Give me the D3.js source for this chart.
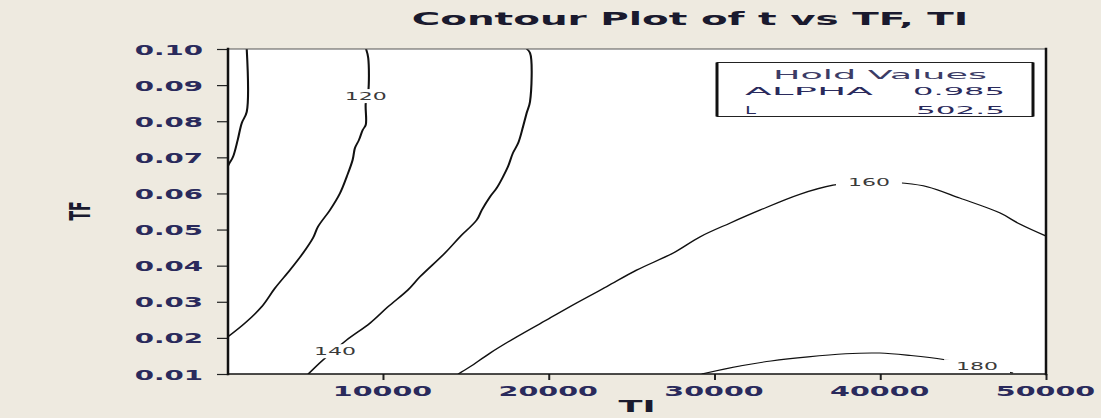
<!DOCTYPE html>
<html>
<head>
<meta charset="utf-8">
<script src="https://cdn.jsdelivr.net/npm/d3@7"></script>
<style>
  body { margin: 0; background: #EEEAE0; }
  svg { display: block; }
</style>
</head>
<body>
<svg id="chart" width="1101" height="418"></svg>
<script>
// Axis ticks
const tiTicks = [10000, 20000, 30000, 40000, 50000];
const tfTicks = [0.01, 0.02, 0.03, 0.04, 0.05, 0.06, 0.07, 0.08, 0.09, 0.10];

// Contour lines of t, as [TI, TF] points
const contour100 = [[1780, 0.100], [1780, 0.0826], [1480, 0.0795], [1235, 0.0748], [950, 0.0701], [740, 0.0684], [650, 0.0676]];
const contour120 = [[8980, 0.100], [9110, 0.0975], [9110, 0.0880], [8960, 0.0850], [8960, 0.0790], [8780, 0.0776], [8550, 0.0748],
  [8310, 0.0726], [8170, 0.0693], [7810, 0.0646], [7410, 0.0601], [6800, 0.0554], [6080, 0.0508], [5780, 0.0477],
  [5180, 0.0435], [4390, 0.0388], [3490, 0.0338], [2680, 0.0286], [1680, 0.0241], [650, 0.0203]];
const contour140 = [[18670, 0.100], [18870, 0.0989], [18870, 0.0854], [18670, 0.0823], [18450, 0.0785], [18160, 0.0740],
  [17840, 0.0712], [17540, 0.0674], [17240, 0.0646], [16860, 0.0615], [16460, 0.0591], [15960, 0.0554], [15650, 0.0526],
  [14650, 0.0480], [13740, 0.0435], [12230, 0.0369], [11510, 0.0333], [10300, 0.0286], [9220, 0.0241], [7810, 0.0194],
  [6380, 0.0139], [5490, 0.0100]];
const contour160 = [[14540, 0.0100], [15250, 0.0120], [16460, 0.0158], [18070, 0.0203], [19880, 0.0250], [21690, 0.0297],
  [23500, 0.0342], [25310, 0.0388], [27500, 0.0435], [29130, 0.0480], [30940, 0.0518], [32750, 0.0554], [35160, 0.0598],
  [37150, 0.0623], [39320, 0.0633], [41490, 0.0628], [42880, 0.0618], [44810, 0.0587], [47220, 0.0546], [48430, 0.0515],
  [50000, 0.0482]];
const contour180 = [[29230, 0.0100], [31540, 0.0122], [33410, 0.0136], [37920, 0.0156], [39970, 0.0158], [41850, 0.0151],
  [43820, 0.0140], [45840, 0.0122], [48010, 0.0103]];
const contours = [contour100, contour120, contour140, contour160, contour180];

// Contour level labels and where they sit
const levelLabels = ["120", "140", "160", "180"];
const labelTI = [8960, 7100, 39320, 45840];
const labelTF = [0.0871, 0.01645, 0.0633, 0.0123];

// Hold values box
const holdNames = ["ALPHA", "L"];
const holdValues = ["0.985", "502.5"];

const svg = d3.select("#chart");
const font = "'DejaVu Sans', Verdana, sans-serif";
const K = 1.9; // horizontal stretch of the whole rendering

const plotL = 228, plotR = 1046, plotT = 49, plotB = 374;
const x = d3.scaleLinear().domain([650, 50000]).range([plotL, plotR]);
const y = d3.scaleLinear().domain([0.01, 0.10]).range([plotB, plotT]);

// Text drawn with a horizontal stretch; width (px) or factor sets the stretch
function stretchText(sel, px, py, opts) {
  const natural = sel.node().getComputedTextLength();
  const f = opts.width ? opts.width / natural : opts.factor;
  sel.attr("x", 0).attr("y", 0)
     .attr("transform", `translate(${px},${py}) scale(${f},1)` + (opts.rotate ? ` rotate(${opts.rotate})` : ""));
  return sel;
}
function addText(parent, str, px, py, opts) {
  const t = parent.append("text")
    .text(str)
    .attr("font-family", font)
    .attr("font-size", opts.size)
    .attr("font-weight", opts.weight || "normal")
    .attr("fill", opts.fill || "#222")
    .attr("text-anchor", opts.anchor || "start");
  return stretchText(t, px, py, opts);
}

// Plot area
svg.append("rect").attr("x", plotL).attr("y", plotT)
  .attr("width", plotR - plotL).attr("height", plotB - plotT).attr("fill", "#fff");

// Contour lines, drawn in a compressed space then stretched so steep strokes read thicker
svg.append("defs").append("clipPath").attr("id", "plotClip")
  .append("rect").attr("x", plotL).attr("y", plotT).attr("width", plotR - plotL).attr("height", plotB - plotT);
const lineLayer = svg.append("g").attr("clip-path", "url(#plotClip)")
  .append("g").attr("transform", `scale(${K},1)`);
const line = d3.line().x(d => x(d[0]) / K).y(d => y(d[1])).curve(d3.curveCatmullRom.alpha(0.5));
lineLayer.selectAll("path.contour").data(contours).join("path")
  .attr("class", "contour")
  .attr("d", line)
  .attr("fill", "none")
  .attr("stroke", "#111")
  .attr("stroke-width", 1.1);

// Level labels with a white gap cut into the line
const labelLayer = svg.append("g");
levelLabels.forEach((lab, i) => {
  const cx = x(labelTI[i]), cy = y(labelTF[i]);
  const g = labelLayer.append("g");
  const bg = g.append("rect").attr("fill", "#fff");
  const t = addText(g, lab, cx, cy + 4, { size: 11, factor: 2.0, anchor: "middle", fill: "#3a3a3a" });
  const w = t.node().getComputedTextLength() * 2.0;
  bg.attr("x", cx - w / 2 - 12).attr("y", cy - 6.5).attr("width", w + 24).attr("height", 14);
});

// Axes
const yAxis = svg.append("g").attr("transform", `translate(${plotL},0)`)
  .call(d3.axisLeft(y).tickValues(tfTicks).tickFormat(d3.format(".2f")).tickSize(11));
yAxis.select(".domain").remove();
yAxis.selectAll(".tick line").attr("stroke", "#222").attr("stroke-width", 1.2);
yAxis.selectAll(".tick text").each(function () {
  const t = d3.select(this)
    .attr("font-family", font).attr("font-size", 14).attr("font-weight", "bold")
    .attr("fill", "#2a2a5c").attr("text-anchor", "end").attr("dy", null);
  stretchText(t, -25, 5, { factor: 1.98 });
});

const xAxis = svg.append("g").attr("transform", `translate(0,${plotB})`)
  .call(d3.axisBottom(x).tickValues(tiTicks).tickFormat(d3.format("d")).tickSize(6));
xAxis.select(".domain").remove();
xAxis.selectAll(".tick line").attr("stroke", "#222").attr("stroke-width", 2);
xAxis.selectAll(".tick text").each(function () {
  const t = d3.select(this)
    .attr("font-family", font).attr("font-size", 14).attr("font-weight", "bold")
    .attr("fill", "#2a2a5c").attr("text-anchor", "middle").attr("dy", null);
  stretchText(t, -1, 22, { factor: 2.04 });
});

// Frame
const frame = svg.append("g").attr("stroke-linecap", "square");
frame.append("line").attr("x1", plotL).attr("x2", plotR).attr("y1", plotT).attr("y2", plotT)
  .attr("stroke", "#555").attr("stroke-width", 1.2);
frame.append("line").attr("x1", plotL).attr("x2", plotR).attr("y1", plotB).attr("y2", plotB)
  .attr("stroke", "#111").attr("stroke-width", 1.5);
frame.append("line").attr("x1", plotL).attr("x2", plotL).attr("y1", plotT).attr("y2", plotB)
  .attr("stroke", "#111").attr("stroke-width", 2.5);
frame.append("line").attr("x1", plotR).attr("x2", plotR).attr("y1", plotT).attr("y2", plotB)
  .attr("stroke", "#111").attr("stroke-width", 2.5);

// Titles
addText(svg, "Contour Plot of t vs TF, TI", 690, 25, { size: 17, weight: "bold", width: 557, anchor: "middle", fill: "#1a1a2e" });
addText(svg, "TI", 637, 412, { size: 16, weight: "bold", factor: 2.2, anchor: "middle", fill: "#1a1a2e" });
addText(svg, "TF", 90, 211, { size: 14, weight: "bold", factor: 2.0, anchor: "middle", rotate: -90, fill: "#1a1a2e" });

// Hold values box
const box = svg.append("g");
const bx0 = 717, bx1 = 1033, by0 = 62.5, by1 = 116.5;
box.append("rect").attr("x", bx0).attr("y", by0).attr("width", bx1 - bx0).attr("height", by1 - by0)
  .attr("fill", "#fff").attr("stroke", "#222").attr("stroke-width", 1);
box.append("line").attr("x1", bx0).attr("x2", bx0).attr("y1", by0).attr("y2", by1).attr("stroke", "#111").attr("stroke-width", 3);
box.append("line").attr("x1", bx1).attr("x2", bx1).attr("y1", by0).attr("y2", by1).attr("stroke", "#111").attr("stroke-width", 3);
addText(box, "Hold Values", 880, 79, { size: 13, width: 214, anchor: "middle", fill: "#3c3c66" });
const rowY = [95, 114];
const nameW = [128, 11], valW = [92, 89];
holdNames.forEach((n, i) => {
  addText(box, n, 745, rowY[i], { size: 11, width: nameW[i], fill: "#2a2a5c" });
  addText(box, holdValues[i], 1005, rowY[i], { size: 11, width: valW[i], anchor: "end", fill: "#2a2a5c" });
});
</script>
</body>
</html>
